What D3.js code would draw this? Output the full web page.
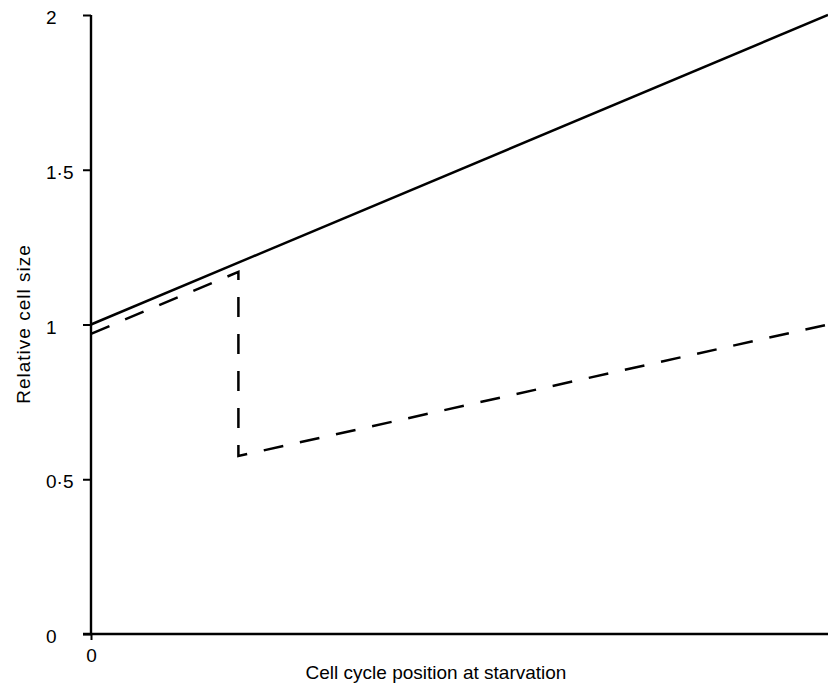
<!DOCTYPE html>
<html>
<head>
<meta charset="utf-8">
<script src="https://cdn.jsdelivr.net/npm/d3@7"></script>
<style>
  body { margin: 0; background: #fff; }
  svg { display: block; font-family: "Liberation Sans", Arial, sans-serif; }
</style>
</head>
<body>
<div id="vizArea"></div>
<script>
// data
const solidX = [0, 1]
const solidY = [1.0, 2.0]
const dashedX = [0, 0.2, 0.2, 1]
const dashedY = [0.97, 1.17, 0.575, 1.0]
const yTicks = [0, 0.5, 1, 1.5, 2]
const xTicks = [0]
const xTitle = 'Cell cycle position at starvation'
const yTitle = 'Relative cell size'

const W = 828, H = 688
const margin = {top: 15, right: 0, bottom: 56, left: 91},
    width = W - margin.left - margin.right,
    height = H - margin.top - margin.bottom

const svg = d3.select('#vizArea')
    .append('svg')
    .attr('width', W)
    .attr('height', H)

const g = svg.append('g')
    .attr('transform', `translate(${margin.left},${margin.top})`)

const x = d3.scaleLinear().domain([0, 1]).range([0, width])
const y = d3.scaleLinear().domain([0, 2]).range([height + 2, 0])

// y axis
const yAxis = g.append('g')
    .call(d3.axisLeft(y).tickValues(yTicks).tickSize(8).tickSizeOuter(0)
        .tickFormat(d => String(d).replace('.', '·')))
yAxis.select('.domain').attr('stroke-width', 2.4).attr('d', `M0,${y(0)}V${y(2)}`)
yAxis.selectAll('.tick line').attr('stroke-width', 2)
yAxis.selectAll('.tick text')
    .attr('x', -45)
    .attr('dy', '0.45em')
    .attr('text-anchor', 'start')
    .attr('font-size', 19)
    .attr('fill', '#000')

// x axis
const xAxis = g.append('g')
    .attr('transform', `translate(0,${y(0)})`)
    .call(d3.axisBottom(x).tickValues(xTicks).tickSize(6).tickSizeOuter(0)
        .tickFormat(d => String(d)))
xAxis.select('.domain').attr('stroke-width', 2.4).attr('d', `M-8,0H${width}`)
xAxis.selectAll('.tick line').attr('stroke-width', 2)
xAxis.selectAll('.tick text')
    .attr('y', 15)
    .attr('dy', '0.71em')
    .attr('font-size', 19)
    .attr('fill', '#000')

const line = d3.line()
    .x(d => x(d[0]))
    .y(d => y(d[1]))

g.append('path')
    .datum(d3.zip(solidX, solidY))
    .attr('d', line)
    .attr('fill', 'none')
    .attr('stroke', '#000')
    .attr('stroke-width', 2.5)

g.append('path')
    .datum(d3.zip(dashedX, dashedY))
    .attr('d', line)
    .attr('fill', 'none')
    .attr('stroke', '#000')
    .attr('stroke-width', 2.5)
    .attr('stroke-dasharray', '20,17')

// titles
svg.append('text')
    .attr('x', 436)
    .attr('y', 679)
    .attr('text-anchor', 'middle')
    .attr('font-size', 19)
    .text(xTitle)

svg.append('text')
    .attr('transform', 'translate(30,324) rotate(-90)')
    .attr('text-anchor', 'middle')
    .attr('font-size', 19)
    .attr('letter-spacing', 1)
    .text(yTitle)
</script>
</body>
</html>
